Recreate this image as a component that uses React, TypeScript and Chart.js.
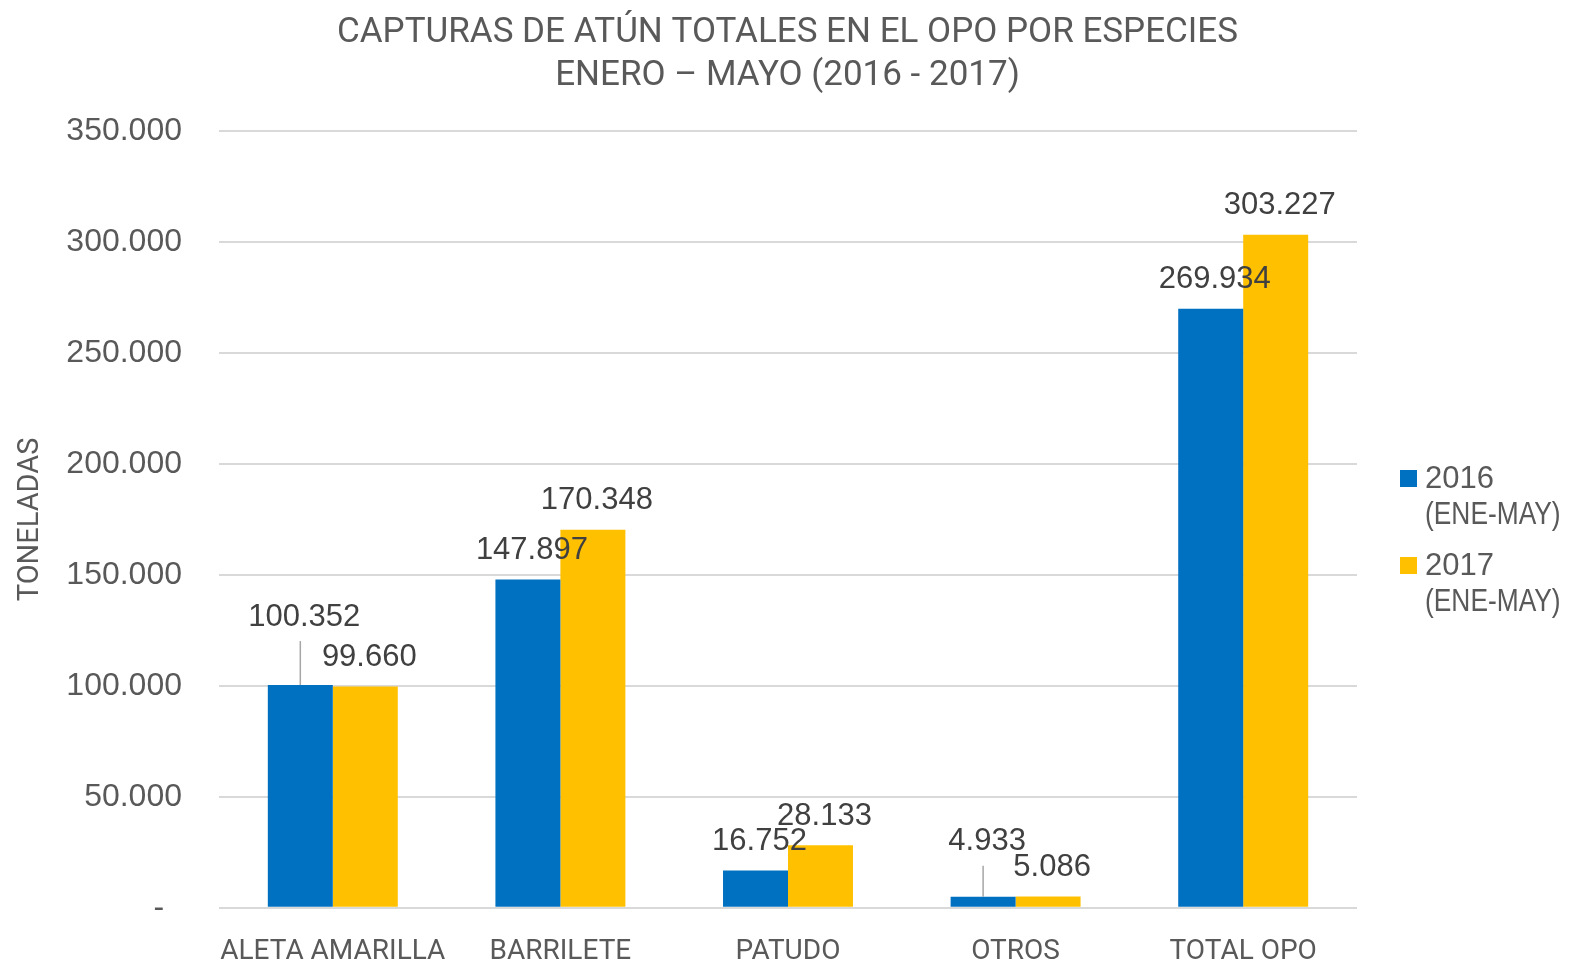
import React, { useEffect, useRef } from "react";
import { Chart, registerables } from "chart.js";

Chart.register(...registerables);

const categories = ["ALETA AMARILLA", "BARRILETE", "PATUDO", "OTROS", "TOTAL OPO"];
const series2016 = [100352, 147897, 16752, 4933, 269934];
const series2017 = [99660, 170348, 28133, 5086, 303227];
const seriesLabels = [["2016", "(ENE-MAY)"], ["2017", "(ENE-MAY)"]];
const titleLines = ["CAPTURAS DE ATÚN TOTALES EN EL OPO POR ESPECIES", "ENERO – MAYO (2016 - 2017)"];
const yAxisTitle = "TONELADAS";
const yTicks = [0, 50000, 100000, 150000, 200000, 250000, 300000, 350000];

const BLUE = "#0070C0";
const GOLD = "#FFC000";
const TEXT = "#595959";
const LABEL = "#404040";
const NARROW = 'Roboto, sans-serif';
const WIDE = '"Liberation Sans", Arial, sans-serif';

function fmt(v: number): string {
  if (v === 0) return "-  ";
  return String(Math.round(v)).replace(/\B(?=(\d{3})+(?!\d))/g, ".");
}

// extra lift (px) for labels that use a leader line, per dataset/category
const labelLift = [
  [39, 0, 0, 26, 0],
  [0, 0, 0, 0, 0],
];

const decorPlugin = {
  id: "decor",
  afterDraw(chart: any) {
    const ctx = chart.ctx;
    const area = chart.chartArea;
    ctx.save();
    // title
    ctx.fillStyle = TEXT;
    ctx.textAlign = "center";
    ctx.textBaseline = "middle";
    ctx.font = `35px ${NARROW}`;
    ctx.fillText(titleLines[0], chart.width / 2, 33);
    ctx.fillText(titleLines[1], chart.width / 2, 76);
    // y title
    ctx.save();
    ctx.translate(31, (area.top + area.bottom) / 2);
    ctx.rotate(-Math.PI / 2);
    ctx.font = `29px ${NARROW}`;
    ctx.fillText(yAxisTitle, 0, 0);
    ctx.restore();
    // data labels
    ctx.font = `31px ${WIDE}`;
    chart.data.datasets.forEach((ds: any, di: number) => {
      const meta = chart.getDatasetMeta(di);
      meta.data.forEach((bar: any, i: number) => {
        const lift = labelLift[di][i];
        const ly = bar.y - 29 - lift;
        if (lift > 0) {
          ctx.strokeStyle = "#A6A6A6";
          ctx.lineWidth = 1.5;
          ctx.beginPath();
          ctx.moveTo(bar.x, ly + 24);
          ctx.lineTo(bar.x, bar.y);
          ctx.stroke();
        }
        ctx.fillStyle = LABEL;
        ctx.textAlign = "center";
        ctx.textBaseline = "middle";
        ctx.fillText(fmt(ds.data[i]), bar.x + 4, ly);
      });
    });
    // legend
    const colors = [BLUE, GOLD];
    const tops = [470, 557];
    ctx.font = `31px ${WIDE}`;
    ctx.textAlign = "left";
    ctx.textBaseline = "middle";
    seriesLabels.forEach((lines, k) => {
      ctx.fillStyle = colors[k];
      ctx.fillRect(1400, tops[k], 17, 17);
      ctx.fillStyle = TEXT;
      ctx.fillText(lines[0], 1425, tops[k] + 9);
      ctx.save();
      ctx.translate(1425, tops[k] + 45);
      ctx.scale(0.85, 1);
      ctx.fillText(lines[1], 0, 0);
      ctx.restore();
    });
    ctx.restore();
  },
};

export default function App() {
  const ref = useRef<HTMLCanvasElement>(null);
  useEffect(() => {
    document.body.style.margin = "0";
    const chart = new Chart(ref.current as HTMLCanvasElement, {
      type: "bar",
      data: {
        labels: categories,
        datasets: [
          { label: seriesLabels[0].join(" "), data: series2016, backgroundColor: BLUE, categoryPercentage: 0.571, barPercentage: 1 },
          { label: seriesLabels[1].join(" "), data: series2017, backgroundColor: GOLD, categoryPercentage: 0.571, barPercentage: 1 },
        ],
      },
      options: {
        responsive: false,
        animation: false,
        layout: { padding: { top: 131, right: 218, left: 0, bottom: 0 } },
        plugins: { legend: { display: false }, title: { display: false }, tooltip: { enabled: false } },
        scales: {
          x: {
            grid: { display: false },
            border: { display: false },
            ticks: { color: TEXT, font: { family: NARROW, size: 28 }, padding: 19, maxRotation: 0, autoSkip: false },
            afterFit: (s: any) => { s.height = 56; },
          },
          y: {
            min: 0,
            max: 350000,
            afterBuildTicks: (s: any) => { s.ticks = yTicks.map((v) => ({ value: v })); },
            grid: { color: "#D9D9D9", lineWidth: 2, drawTicks: false },
            border: { display: false },
            ticks: { color: TEXT, font: { family: WIDE, size: 32 }, padding: 37, callback: (v: any) => fmt(Number(v)) },
            afterFit: (s: any) => { s.width = 219; },
          },
        },
      },
      plugins: [decorPlugin],
    });
    return () => chart.destroy();
  }, []);
  return (
    <div style={{ position: "absolute", left: 0, top: 0, width: 1575, height: 964, background: "#fff" }}>
      <canvas ref={ref} width={1575} height={964} style={{ display: "block" }} />
    </div>
  );
}
